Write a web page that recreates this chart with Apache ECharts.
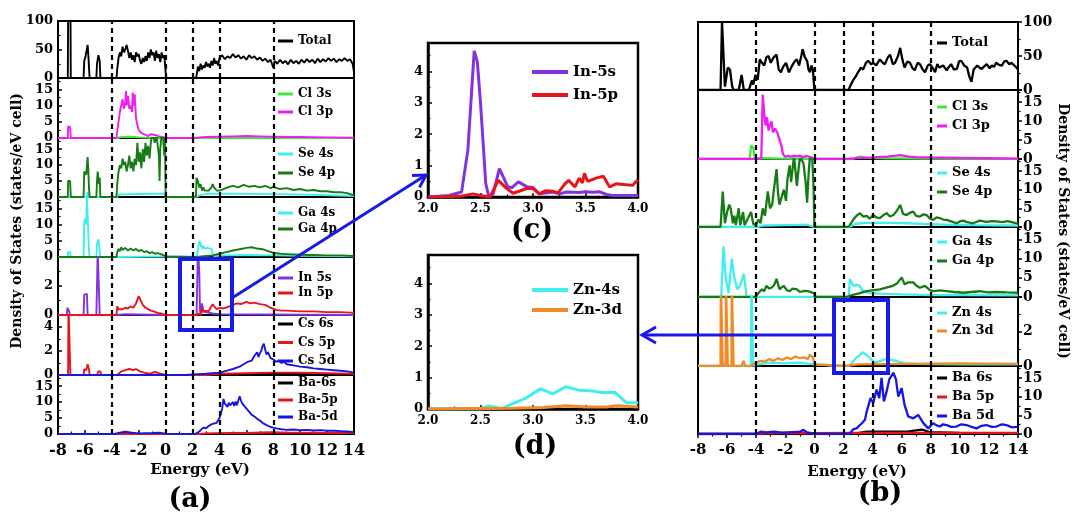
<!DOCTYPE html>
<html>
<head>
<meta charset="utf-8">
<script src="https://cdn.jsdelivr.net/npm/echarts@6/dist/echarts.min.js"></script>
<style>
  html, body { margin: 0; padding: 0; background: #fff; }
  #chart { width: 1076px; height: 517px; }
</style>
</head>
<body>
<div id="chart"></div>
<script>
// ---- data: energy (eV) vs DOS (states/eV cell) ----
const energyTicks = [-8, -6, -4, -2, 0, 2, 4, 6, 8, 10, 12, 14];
const dashE = [-4, 0, 2, 4, 8];
const totalTicks = [0, 50, 100];
const dosTicks = [0, 5, 10, 15];
const inTicks = [0, 2];
const csTicks = [0, 2, 4];
const znTicks = [0, 2];
const zoomTicks = [0, 1, 2, 3, 4];

// panel (a)
const aTotal = [[-8,0],[-7.27,0],[-7.25,100],[-7.07,100],[-7.05,0],[-6.1,0],[-6.05,30],[-5.95,38],[-5.9,35],[-5.8,58],[-5.75,42],[-5.7,20],[-5.65,0],[-5.15,0],[-5.1,25],[-5.0,40],[-4.9,30],[-4.85,0],[-3.65,0],[-3.6,15],[-3.5,35],[-3.4,45],[-3.3,38],[-3.2,55],[-3.1,45],[-3.0,50],[-2.9,58],[-2.8,48],[-2.7,35],[-2.6,45],[-2.5,32],[-2.4,40],[-2.3,28],[-2.2,45],[-2.1,38],[-2.0,42],[-1.9,30],[-1.8,25],[-1.7,35],[-1.6,28],[-1.5,38],[-1.4,30],[-1.3,45],[-1.2,35],[-1.1,50],[-1.0,40],[-0.9,45],[-0.8,30],[-0.7,48],[-0.6,35],[-0.5,42],[-0.4,28],[-0.3,45],[-0.2,35],[-0.1,40],[0,10],[0.05,0],[2.25,0],[2.3,5],[2.4,20],[2.5,12],[2.6,25],[2.7,15],[2.8,22],[2.9,18],[3.0,28],[3.1,20],[3.2,25],[3.3,18],[3.4,30],[3.5,22],[3.6,35],[3.7,25],[3.8,30],[3.9,22],[4.0,35],[4.2,40],[4.4,33],[4.6,38],[4.8,35],[5.0,42],[5.2,36],[5.4,40],[5.6,34],[5.8,38],[6.0,32],[6.2,40],[6.4,35],[6.6,38],[6.8,32],[7.0,36],[7.2,30],[7.4,34],[7.6,28],[7.8,32],[8.0,18],[8.1,30],[8.3,25],[8.5,32],[8.7,26],[8.9,30],[9.1,24],[9.3,32],[9.5,26],[9.7,30],[9.9,25],[10.1,32],[10.3,27],[10.5,33],[10.7,28],[10.9,32],[11.1,26],[11.3,34],[11.5,28],[11.7,33],[11.9,29],[12.1,35],[12.3,30],[12.5,34],[12.7,28],[12.9,33],[13.1,30],[13.3,35],[13.5,30],[13.7,33],[13.9,25],[14,10]];
const aCl3s = [[-8,0],[-3.6,0],[-3.3,0.3],[-2.5,0.4],[-2,0.2],[-1,0.1],[0,0],[14,0]];
const aCl3p = [[-8,0],[-7.27,0],[-7.25,3.5],[-7.1,3.5],[-7.05,0],[-3.65,0],[-3.6,2],[-3.5,5],[-3.4,8],[-3.3,10],[-3.2,12],[-3.1,9],[-3.0,11],[-2.95,14.5],[-2.9,10],[-2.8,13],[-2.7,9],[-2.6,10],[-2.5,8],[-2.45,14],[-2.4,10],[-2.3,13.5],[-2.2,6],[-2.1,4],[-2.0,2.5],[-1.9,3],[-1.8,1.5],[-1.7,1],[-1.5,1],[-1.3,0.6],[-1.1,1.2],[-0.9,1],[-0.7,0.8],[-0.5,0.5],[-0.3,0.4],[0,0],[2.3,0],[2.5,0.2],[3,0.3],[4,0.4],[5,0.5],[6,0.6],[7,0.5],[8,0.4],[9,0.3],[10,0.3],[12,0.2],[14,0.1]];
const aSe4s = [[-8,0],[-5.85,0],[-5.8,1.5],[-5.75,0],[-3.6,0],[-3.5,0.8],[-1,1],[-0.1,1],[0,0],[2.3,0],[2.5,0.5],[3,1],[5,1],[8,0.9],[11,0.7],[14,0.3]];
const aSe4p = [[-8,0],[-7.27,0],[-7.25,5],[-7.1,5],[-7.05,0],[-6.1,0],[-6.05,8],[-5.95,8.5],[-5.9,7],[-5.8,12.5],[-5.75,9],[-5.7,3],[-5.65,0],[-5.15,0],[-5.1,5],[-5.05,8],[-4.95,4],[-4.9,6],[-4.85,0],[-3.65,0],[-3.6,4],[-3.5,8],[-3.4,10],[-3.3,9],[-3.2,12],[-3.1,10],[-3.0,11],[-2.9,8],[-2.8,10],[-2.7,13],[-2.6,9],[-2.5,11],[-2.4,8],[-2.3,12],[-2.2,10],[-2.1,17],[-2.0,11],[-1.9,14],[-1.8,9],[-1.7,15],[-1.6,11],[-1.5,17],[-1.4,13],[-1.3,16],[-1.2,12],[-1.1,17],[-1.0,20],[-0.9,20],[-0.8,17],[-0.7,20],[-0.6,20],[-0.5,13],[-0.45,5],[-0.4,15],[-0.3,20],[-0.2,19],[-0.1,13],[-0.05,20],[0,0],[2.25,0],[2.3,6],[2.4,5],[2.5,3],[2.6,4],[2.7,2],[2.8,3],[2.9,2],[3.0,2.5],[3.2,2],[3.4,3],[3.5,4],[3.6,3],[3.8,2],[4.0,2],[4.3,2.5],[4.6,3],[5.0,3.5],[5.4,3],[5.8,3.8],[6.2,3.2],[6.6,3.5],[7.0,3],[7.4,3.5],[7.8,2.8],[8.0,3.2],[8.5,2.5],[9,2.8],[9.5,2.2],[10,2.5],[10.5,2],[11,2.2],[11.5,1.8],[12,1.8],[12.5,1.5],[13,1.5],[13.5,1.2],[14,0.5]];
const aGa4s = [[-8,0],[-7.27,0],[-7.25,1.5],[-7.1,1.5],[-7.05,0],[-6.1,0],[-6.05,11],[-5.95,12],[-5.9,10],[-5.85,19],[-5.75,19],[-5.7,2],[-5.65,0],[-5.15,0],[-5.1,4],[-5.0,5.5],[-4.9,5],[-4.85,0],[-3.6,0],[-3.5,0.3],[0,0.2],[2.3,0],[2.4,2],[2.5,5],[2.6,4],[2.7,2.5],[2.8,3.5],[2.9,2.5],[3.0,3],[3.1,2.8],[3.2,3],[3.4,2.5],[3.5,1],[3.6,0.3],[4.5,0.5],[6,0.6],[8,0.5],[10,0.4],[14,0.2]];
const aGa4p = [[-8,0],[-3.65,0],[-3.6,1.5],[-3.5,2.5],[-3.4,1.8],[-3.3,3],[-3.2,2.2],[-3.0,2.8],[-2.8,2],[-2.6,2.6],[-2.4,2],[-2.2,2.5],[-2.0,1.8],[-1.8,2.2],[-1.6,1.5],[-1.4,1.8],[-1.2,1.2],[-1.0,1.5],[-0.8,1],[-0.6,1.2],[-0.3,0.8],[0,0.2],[2.3,0],[3,0.3],[3.5,0.5],[4,1],[4.5,1.5],[5,2],[5.5,2.4],[6,2.8],[6.4,3],[6.8,2.6],[7.2,2.4],[7.6,1.8],[8,1.3],[8.5,1],[9,0.9],[10,0.7],[11,0.6],[12,0.5],[13,0.5],[14,0.3]];
const aIn5s = [[-8,0],[-7.35,0],[-7.3,0.5],[-7.2,0.3],[-7.1,0],[-6.1,0],[-6.05,1.4],[-5.85,1.45],[-5.8,0],[-5.15,0],[-5.1,2],[-5.05,4.5],[-4.95,4.5],[-4.9,0],[-3.6,0],[-3,0.05],[0,0],[2.3,0],[2.4,4.6],[2.5,3],[2.55,0.4],[2.6,0],[2.7,0.8],[2.8,0.3],[2.9,0.4],[3,0.2],[3.5,0.1],[4,0.05],[14,0]];
const aIn5p = [[-8,0],[-3.65,0],[-3.6,0.6],[-3.5,0.4],[-3.4,0.5],[-3.2,0.4],[-3.0,0.5],[-2.8,0.45],[-2.6,0.6],[-2.4,0.5],[-2.2,0.8],[-2.1,0.9],[-2.0,1.3],[-1.9,1.1],[-1.8,1.0],[-1.7,0.7],[-1.6,0.8],[-1.5,0.5],[-1.3,0.4],[-1.1,0.3],[-0.9,0.25],[-0.6,0.15],[-0.3,0.1],[0,0],[2.3,0],[2.45,0.1],[2.6,0],[2.7,0.5],[2.8,0.2],[2.9,0.3],[3.0,0.3],[3.2,0.25],[3.4,0.6],[3.5,0.75],[3.6,0.6],[3.7,0.65],[3.8,0.4],[4.0,0.5],[4.3,0.45],[4.6,0.55],[5.0,0.7],[5.3,0.8],[5.6,0.75],[6.0,0.9],[6.3,0.8],[6.6,0.85],[7.0,0.75],[7.4,0.7],[7.8,0.5],[8.2,0.35],[8.6,0.3],[9,0.3],[10,0.25],[11,0.25],[12,0.2],[13,0.2],[14,0.15]];
const aCs6s = [[-8,0],[2,0],[4,0.05],[8,0.1],[12,0.05],[14,0.03]];
const aCs5p = [[-8,0],[-7.25,0],[-7.22,6],[-7.1,6],[-7.08,0],[-6.1,0],[-6.05,0.5],[-5.9,0.4],[-5.8,0.9],[-5.7,0.5],[-5.65,0],[-5.1,0],[-5.0,0.3],[-4.85,0.3],[-4.8,0],[-3.6,0],[-3.3,0.3],[-3.0,0.4],[-2.7,0.5],[-2.4,0.4],[-2.2,0.5],[-1.9,0.3],[-1.6,0.2],[-1.2,0.1],[-0.8,0.25],[-0.5,0.15],[0,0],[3,0],[4,0.1],[6,0.15],[8,0.2],[10,0.2],[12,0.15],[14,0.1]];
const aCs5d = [[-8,0],[1.5,0],[2,0.05],[3,0.1],[4,0.2],[4.5,0.35],[5,0.5],[5.5,0.7],[5.8,0.9],[6.1,1.1],[6.4,1.2],[6.6,1.6],[6.8,1.9],[6.9,1.5],[7.0,1.8],[7.1,2.0],[7.2,2.4],[7.3,2.6],[7.4,2.1],[7.5,1.7],[7.6,1.9],[7.8,1.4],[8.0,1.3],[8.2,1.1],[8.4,1.2],[8.6,1.0],[8.8,1.1],[9.0,0.9],[9.5,0.8],[10,0.7],[10.5,0.65],[11,0.55],[11.5,0.5],[12,0.45],[12.5,0.4],[13,0.35],[13.5,0.3],[14,0.2]];
const aBa6s = [[-8,0],[3,0],[5,0.2],[7,0.4],[8,0.5],[10,0.2],[14,0.1]];
const aBa5p = [[-8,0],[2.5,0],[3,0.2],[5,0.3],[8,0.4],[10,0.4],[14,0.3]];
const aBa5d = [[-8,0],[-3.8,0],[-3.5,0.3],[-3,0.7],[-2.5,0.4],[-2,0.2],[-1,0.3],[-0.5,0.4],[0,0.1],[2.2,0],[2.4,0.5],[2.6,1.2],[2.8,2],[3.0,1.8],[3.2,2.5],[3.4,3],[3.6,3.3],[3.8,3.5],[4.0,5],[4.1,6.3],[4.2,8],[4.3,11],[4.4,9.5],[4.5,10],[4.6,8.5],[4.7,9.8],[4.8,9],[5.0,10],[5.1,8.8],[5.2,10.2],[5.3,9],[5.4,10.5],[5.5,11.8],[5.6,10.5],[5.7,9.5],[5.8,10],[5.9,8.5],[6.0,7.9],[6.2,7],[6.4,6],[6.6,5.5],[6.8,4.8],[7.0,4.2],[7.2,3.5],[7.5,2.8],[7.8,2.2],[8.0,2],[8.3,1.7],[8.6,1.5],[9,1.3],[9.5,1.4],[10,1.2],[10.5,1.3],[11,1.1],[11.5,1.2],[12,1.0],[12.5,1.0],[13,0.9],[13.5,0.8],[14,0.6]];

// panel (b)
const bTotal = [[-8,0],[-6.45,0],[-6.35,100],[-6.25,100],[-6.15,5],[-5.95,33],[-5.8,30],[-5.65,5],[-5.55,0],[-5.2,0],[-5.0,22],[-4.85,0],[-4.5,0],[-4.3,14],[-4.2,8],[-4.05,22],[-3.9,15],[-3.75,45],[-3.6,40],[-3.45,36],[-3.3,48],[-3.15,50],[-3.0,40],[-2.8,48],[-2.6,52],[-2.45,30],[-2.3,26],[-2.15,34],[-1.95,40],[-1.75,26],[-1.55,35],[-1.35,42],[-1.2,45],[-1.05,36],[-0.9,50],[-0.8,60],[-0.65,48],[-0.5,43],[-0.4,30],[-0.3,26],[-0.2,36],[-0.1,30],[0,0],[2.35,0],[2.45,5],[2.65,14],[2.85,20],[3.0,26],[3.2,33],[3.35,30],[3.55,40],[3.7,43],[3.9,38],[4.05,40],[4.25,36],[4.5,45],[4.7,40],[4.85,38],[5.05,48],[5.2,52],[5.4,38],[5.55,40],[5.75,50],[5.9,62],[6.05,45],[6.2,33],[6.4,42],[6.57,40],[6.75,32],[6.9,29],[7.1,40],[7.26,38],[7.45,30],[7.6,26],[7.8,36],[7.95,38],[8.15,32],[8.3,26],[8.45,38],[8.6,33],[8.85,36],[9.1,29],[9.25,34],[9.4,38],[9.6,30],[9.8,31],[9.95,42],[10.1,43],[10.3,36],[10.5,33],[10.65,20],[10.8,12],[10.95,30],[11.2,36],[11.35,33],[11.5,31],[11.7,35],[11.85,38],[12.05,32],[12.2,36],[12.35,34],[12.5,40],[12.7,37],[12.9,36],[13.05,42],[13.2,43],[13.4,38],[13.55,40],[13.75,36],[13.9,33],[14,30]];
const bCl3s = [[-8,0],[-4.45,0],[-4.35,3.5],[-4.2,3],[-4.1,0.5],[-3.9,0.2],[-2,0.1],[0,0],[2.6,0],[2.9,0.4],[3.2,0.6],[3.5,0.3],[5,0.2],[8,0.1],[14,0.05]];
const bCl3p = [[-8,0],[-3.65,0],[-3.55,17],[-3.45,12],[-3.35,8.8],[-3.25,11],[-3.15,7.5],[-3.05,9],[-2.95,10],[-2.85,7],[-2.7,8],[-2.55,7],[-2.4,5.2],[-2.3,4],[-2.15,1.2],[-2,0.6],[-1.8,0.8],[-1.6,0.6],[-1.4,0.9],[-1.2,0.7],[-1,0.9],[-0.8,0.5],[-0.5,0.8],[-0.2,0.4],[0,0],[2.4,0],[3,0.3],[4,0.4],[5,0.6],[5.9,1],[6.5,0.6],[7,0.5],[8,0.4],[10,0.3],[12,0.2],[14,0.1]];
const bSe4s = [[-8,0],[-6.4,0],[-6.3,0.5],[-6.2,0],[-4,0],[-3.5,0.4],[-2,0.5],[-0.5,0.6],[0,0],[2.4,0],[2.8,0.8],[3.5,1.1],[5,1.1],[6.5,1],[7.5,0.8],[9,0.6],[11,0.5],[14,0.4]];
const bSe4p = [[-8,0],[-6.45,0],[-6.3,9.5],[-6.15,1],[-6.0,4],[-5.85,6],[-5.75,5],[-5.6,1],[-5.5,3],[-5.4,0.5],[-5.2,5],[-5.1,0.5],[-4.9,4],[-4.8,0.5],[-4.55,2.5],[-4.35,4],[-4.2,0.8],[-4.0,0.5],[-3.85,2],[-3.7,1],[-3.55,5],[-3.4,3],[-3.2,9.5],[-3.05,5],[-2.9,6],[-2.75,11],[-2.6,15.5],[-2.5,9],[-2.4,6],[-2.25,8],[-2.1,10],[-1.95,7],[-1.85,12.8],[-1.7,16.5],[-1.6,12],[-1.4,19],[-1.3,19],[-1.2,11],[-1.1,15],[-0.98,19],[-0.9,19],[-0.75,17],[-0.6,12],[-0.5,6.5],[-0.4,14],[-0.3,19],[-0.15,19],[-0.05,10],[0,0],[2.35,0],[2.45,0.5],[2.68,2],[2.9,3],[3.14,3.7],[3.35,2.8],[3.6,3],[3.8,2.2],[4.05,3.2],[4.25,2.6],[4.5,2.4],[4.75,3.2],[4.97,3.7],[5.2,2.8],[5.43,3.2],[5.65,4.2],[5.9,5.9],[6.1,3.5],[6.34,3.2],[6.55,3.8],[6.8,4.1],[7.0,3.0],[7.26,2.8],[7.5,3.4],[7.72,3.2],[7.95,2.2],[8.17,1.9],[8.4,2.6],[8.63,2.4],[8.85,2.0],[9.09,1.9],[9.4,1.5],[9.77,1.0],[10.0,1.5],[10.23,1.7],[10.5,1.3],[10.9,1.0],[11.38,1.7],[11.8,1.4],[12.2,1.6],[12.52,1.5],[12.9,1.3],[13.3,1.6],[13.7,1.2],[14,0.9]];
const bGa4s = [[-8,0],[-6.4,0],[-6.25,13.2],[-6.1,5],[-5.9,1],[-5.75,7],[-5.68,10],[-5.5,5],[-5.3,2],[-5.1,3],[-4.85,6],[-4.75,3],[-4.65,0],[2.35,0],[2.45,4.7],[2.6,3.5],[2.7,2.9],[2.9,3.2],[3.1,2.9],[3.36,1.5],[3.8,1.0],[4.5,0.9],[6,0.7],[8,0.5],[10,0.5],[14,0.4]];
const bGa4p = [[-8,0],[-4.05,0],[-4.0,0.4],[-3.8,1.2],[-3.6,2],[-3.45,1.5],[-3.3,2.9],[-3.1,2.2],[-2.95,2.4],[-2.75,3.2],[-2.6,4.7],[-2.4,2],[-2.25,2.5],[-2.1,2.9],[-1.9,1.8],[-1.7,1.5],[-1.5,2.2],[-1.2,2],[-1,1.3],[-0.7,1.6],[-0.4,1.5],[-0.2,1.2],[0,0.9],[0.05,0],[2.2,0],[2.5,0.4],[3.0,0.9],[3.6,1.5],[4.1,1.8],[4.5,2],[5.0,2.5],[5.4,2.9],[5.7,3.6],[6.0,5.1],[6.2,3.3],[6.45,3.8],[6.8,3.8],[7.0,3.0],[7.26,2.4],[7.6,2.9],[7.95,1.8],[8.2,1.5],[8.6,1.7],[9.1,1.5],[9.6,1.3],[10.23,1.1],[10.8,1.3],[11.38,1.5],[11.9,1.2],[12.52,1.3],[13.2,1.2],[14,1.1]];
const bZn4s = [[-8,0],[-6.4,0],[-6.3,0.2],[-6.2,0],[-4.35,0],[-4.33,5],[-4.23,5],[-4.21,0],[-3.9,0.1],[-3,0.2],[-2,0.15],[-1,0.2],[0,0.1],[2.4,0],[2.6,0.2],[2.9,0.5],[3.1,0.6],[3.3,0.8],[3.5,0.7],[3.7,0.55],[3.9,0.4],[4.1,0.2],[4.4,0.25],[4.9,0.4],[5.3,0.35],[5.6,0.3],[6.2,0.15],[7,0.12],[10,0.1],[14,0.1]];
const bZn3d = [[-8,0],[-6.45,0],[-6.43,5],[-6.32,5],[-6.3,0],[-6.1,0],[-6.08,5],[-5.97,5],[-5.95,0],[-5.7,0],[-5.68,5],[-5.57,5],[-5.55,0],[-5.0,0],[-4.88,0.3],[-4.75,0],[-4.4,0],[-4.0,0.2],[-3.7,0.3],[-3.4,0.25],[-3.1,0.4],[-2.8,0.3],[-2.5,0.45],[-2.2,0.35],[-1.9,0.5],[-1.6,0.4],[-1.3,0.55],[-1.0,0.45],[-0.7,0.5],[-0.45,0.4],[-0.3,0.65],[-0.1,0.5],[0,0.1],[0.1,0],[2,0],[3,0.1],[6,0.12],[10,0.15],[14,0.12]];
const bBa6s = [[-8,0],[2.5,0],[3,0.2],[3.6,0.6],[5,0.6],[6.5,0.7],[7.4,1.2],[7.9,0.5],[10,0.3],[14,0.2]];
const bBa5p = [[-8,0],[-4,0.1],[-2,0.3],[0,0.2],[3,0.3],[8,0.3],[14,0.3]];
const bBa5d = [[-8,0],[-4,0],[-3.7,0.6],[-3.3,0.4],[-2.8,0.6],[-2.2,0.35],[-1.5,0.5],[-1,0.6],[-0.75,1.1],[-0.5,0.4],[0,0.1],[2.4,0],[2.68,1.3],[2.9,1.5],[3.14,2.4],[3.3,3],[3.48,3.8],[3.6,6],[3.7,7.4],[3.86,9.6],[4.05,8.3],[4.28,11.9],[4.46,9.6],[4.62,15],[4.78,8.7],[4.97,11.4],[5.15,14.6],[5.43,16.4],[5.61,14.6],[5.77,10],[6.0,12.3],[6.2,7.8],[6.45,4.7],[6.8,4.2],[7.14,5.1],[7.49,2.9],[7.83,1.5],[8.17,2.9],[8.4,2.3],[8.63,2.0],[8.85,2.6],[9.09,2.4],[9.4,1.9],[9.77,2.0],[10.1,2.6],[10.46,2.4],[10.8,1.9],[11.15,1.5],[11.5,2.2],[11.83,2.4],[12.2,1.9],[12.52,2.0],[12.9,2.6],[13.2,2.4],[13.5,1.9],[13.66,1.8],[14,2.0]];

// panels (c) and (d): zoom on 2-4 eV
const cIn5s = [[2.0,0],[2.2,0.05],[2.32,0.16],[2.38,1.5],[2.44,4.65],[2.47,4.3],[2.5,3.0],[2.55,0.43],[2.58,0],[2.62,0.1],[2.68,0.9],[2.76,0.32],[2.8,0.3],[2.86,0.48],[2.94,0.33],[3.0,0.3],[3.06,0.1],[3.19,0.16],[3.25,0.1],[3.32,0.16],[3.44,0.14],[3.5,0.17],[3.57,0.15],[3.63,0.17],[3.7,0.08],[3.76,0.05],[4.0,0.05]];
const cIn5p = [[2.0,0],[2.3,0.02],[2.43,0.1],[2.5,0.05],[2.59,0],[2.67,0.53],[2.74,0.3],[2.81,0.12],[2.88,0.2],[2.94,0.27],[3.0,0.27],[3.06,0.1],[3.12,0.2],[3.19,0.18],[3.24,0.14],[3.3,0.4],[3.34,0.53],[3.4,0.32],[3.44,0.6],[3.47,0.45],[3.49,0.75],[3.52,0.5],[3.6,0.6],[3.67,0.66],[3.73,0.32],[3.79,0.42],[3.86,0.4],[3.95,0.37],[3.97,0.45],[4.0,0.55]];
const dZn4s = [[2.0,0],[2.49,0],[2.58,0.1],[2.71,0.02],[2.8,0.16],[2.93,0.34],[3.07,0.64],[3.19,0.48],[3.31,0.71],[3.44,0.6],[3.57,0.57],[3.66,0.52],[3.78,0.53],[3.89,0.2],[4.0,0.2]];
const dZn3d = [[2.0,0],[2.8,0.02],[3.1,0.05],[3.31,0.1],[3.5,0.06],[3.7,0.06],[3.8,0.1],[4.0,0.06]];

// ---- styling / layout ----
const FONT = '"DejaVu Serif", serif';
const C = {
  black: '#000000', green: '#3ee83e', magenta: '#ee1eee', cyan: '#40eeee',
  dgreen: '#157c15', violet: '#8232e0', red: '#e8141c', blue: '#1616e0',
  orange: '#f08a28', arrow: '#1a1ae8'
};

const frameA = { left: 58, width: 296, xmin: -8, xmax: 14, xstep: 2, xticks: energyTicks, border: 2, tickIn: true, ypos: 'left',
  lw: 1.9, xfs: 16, yfs: 13, xmargin: 9, dash: true,
  lg: { left: 278, itemWidth: 15, itemHeight: 3, fontSize: 12, lineHeight: 14 } };
const frameB = { left: 698, width: 320, xmin: -8, xmax: 14, xstep: 2, xticks: energyTicks, border: 2, tickIn: false, ypos: 'right',
  lw: 2.3, xfs: 15, yfs: 14, xmargin: 9, dash: true,
  lg: { left: 937, itemWidth: 10, itemHeight: 3, fontSize: 13, lineHeight: 15 } };
const frameZ = { left: 428, width: 210, xmin: 2, xmax: 4, xstep: 0.5, xticks: [2, 2.5, 3, 3.5, 4], border: 2.5, tickIn: true, ypos: 'left',
  lw: 3, xfs: 12, yfs: 13, xmargin: 6, dash: false, xfmt: v => v.toFixed(1),
  lg: { left: 532, itemWidth: 36, itemHeight: 4, fontSize: 15, lineHeight: 18 } };

const panelsA = [
  { top: 21,  h: 57, max: 100,  step: 50, labels: totalTicks, lg: [34, 4],  lines: [['Total', aTotal, C.black]] },
  { top: 78,  h: 60, max: 18.5, step: 5,  labels: dosTicks,   lg: [87, 4],  lines: [['Cl 3s', aCl3s, C.green], ['Cl 3p', aCl3p, C.magenta]] },
  { top: 138, h: 59, max: 18.5, step: 5,  labels: dosTicks,   lg: [147, 5], lines: [['Se 4s', aSe4s, C.cyan], ['Se 4p', aSe4p, C.dgreen]] },
  { top: 197, h: 60, max: 18.5, step: 5,  labels: dosTicks,   lg: [206, 2], lines: [['Ga 4s', aGa4s, C.cyan], ['Ga 4p', aGa4p, C.dgreen]] },
  { top: 257, h: 58, max: 4,    step: 2,  labels: inTicks,    lg: [271, 1], lines: [['In 5s', aIn5s, C.violet], ['In 5p', aIn5p, C.red]] },
  { top: 315, h: 60, max: 5,    step: 2,  labels: csTicks,    lg: [317, 4.5], lines: [['Cs 6s', aCs6s, C.black], ['Cs 5p', aCs5p, C.red], ['Cs 5d', aCs5d, C.blue]] },
  { top: 375, h: 59, max: 18.5, step: 5,  labels: dosTicks,   lg: [376, 3], lines: [['Ba-6s', aBa6s, C.black], ['Ba-5p', aBa5p, C.red], ['Ba-5d', aBa5d, C.blue]] }
];
const panelsB = [
  { top: 22,  h: 68, max: 100,  step: 50, labels: totalTicks, lg: [35.5, 4],  lines: [['Total', bTotal, C.black]] },
  { top: 90,  h: 69, max: 18.2, step: 5,  labels: dosTicks,   lg: [99.5, 4],  lines: [['Cl 3s', bCl3s, C.green], ['Cl 3p', bCl3p, C.magenta]] },
  { top: 159, h: 68, max: 18.2, step: 5,  labels: dosTicks,   lg: [165.5, 4], lines: [['Se 4s', bSe4s, C.cyan], ['Se 4p', bSe4p, C.dgreen]] },
  { top: 227, h: 70, max: 18.2, step: 5,  labels: dosTicks,   lg: [234.5, 4], lines: [['Ga 4s', bGa4s, C.cyan], ['Ga 4p', bGa4p, C.dgreen]] },
  { top: 297, h: 69, max: 4,    step: 2,  labels: znTicks,    lg: [305.5, 3], lines: [['Zn 4s', bZn4s, C.cyan], ['Zn 3d', bZn3d, C.orange]] },
  { top: 366, h: 68, max: 18.2, step: 5,  labels: dosTicks,   lg: [370.5, 4], lines: [['Ba 6s', bBa6s, C.black], ['Ba 5p', bBa5p, C.red], ['Ba 5d', bBa5d, C.blue]] }
];
const panelsZ = [
  { top: 43,  h: 154, max: 4.9, step: 1, labels: zoomTicks, lg: [63, 5],  lines: [['In-5s', cIn5s, C.violet], ['In-5p', cIn5p, C.red]] },
  { top: 255, h: 154, max: 4.9, step: 1, labels: zoomTicks, lg: [281, 2], lines: [['Zn-4s', dZn4s, C.cyan], ['Zn-3d', dZn3d, C.orange]] }
];

const grids = [], xAxes = [], yAxes = [], series = [], legends = [];

function addPanel(p, f, showX) {
  const i = grids.length;
  const lbl = { fontFamily: FONT, fontWeight: 'bold', color: '#000' };
  grids.push({ left: f.left, top: p.top, width: f.width, height: p.h, show: true,
    borderColor: '#000', borderWidth: f.border, backgroundColor: 'rgba(0,0,0,0)' });
  xAxes.push({
    gridIndex: i, type: 'value', min: f.xmin, max: f.xmax, interval: f.xstep, position: 'bottom',
    axisLine: { show: showX, onZero: false, lineStyle: { color: '#000', width: f.border } },
    axisTick: { show: showX, inside: f.tickIn, length: 4, lineStyle: { color: '#000', width: 1.5 } },
    minorTick: { show: showX, splitNumber: 2, length: 2.5, lineStyle: { color: '#000', width: 1.2 } },
    axisLabel: Object.assign({ show: showX, fontSize: f.xfs, margin: f.xmargin,
      formatter: v => f.xticks.includes(v) ? (f.xfmt ? f.xfmt(v) : String(v)) : '' }, lbl),
    splitLine: { show: false }
  });
  yAxes.push({
    gridIndex: i, type: 'value', min: 0, max: p.max, interval: p.step, position: f.ypos,
    axisLine: { show: true, onZero: false, lineStyle: { color: '#000', width: f.border } },
    axisTick: { show: true, inside: f.tickIn, length: 4, lineStyle: { color: '#000', width: 1.5 } },
    minorTick: { show: true, splitNumber: 2, length: 2.5, lineStyle: { color: '#000', width: 1.2 } },
    axisLabel: Object.assign({ fontSize: f.yfs, margin: 5,
      formatter: v => p.labels.includes(v) ? String(v) : '' }, lbl),
    splitLine: { show: false }
  });
  p.lines.forEach((s, k) => {
    const ser = {
      type: 'line', name: s[0], data: s[1], xAxisIndex: i, yAxisIndex: i,
      symbol: 'none', clip: true, lineStyle: { color: s[2], width: f.lw },
      itemStyle: { color: s[2] }, emphasis: { disabled: true }
    };
    if (k === 0 && f.dash) {
      ser.markLine = {
        silent: true, symbol: ['none', 'none'], label: { show: false },
        lineStyle: { color: '#000', type: [5, 4], width: 2.2 },
        emphasis: { disabled: true },
        data: dashE.map(v => ({ xAxis: v }))
      };
    }
    series.push(ser);
  });
  legends.push({
    orient: 'vertical', left: f.lg.left, top: p.lg[0], itemGap: p.lg[1], padding: 0,
    itemWidth: f.lg.itemWidth, itemHeight: f.lg.itemHeight, icon: 'rect', selectedMode: false,
    data: p.lines.map(s => s[0]),
    textStyle: { fontFamily: FONT, fontWeight: 'bold', fontSize: f.lg.fontSize, lineHeight: f.lg.lineHeight, color: '#000' }
  });
}

panelsA.forEach((p, k) => addPanel(p, frameA, k === panelsA.length - 1));
panelsB.forEach((p, k) => addPanel(p, frameB, k === panelsB.length - 1));
panelsZ.forEach(p => addPanel(p, frameZ, true));

function label(text, x, y, size, rot) {
  return { type: 'text', x: x, y: y, rotation: rot || 0, z: 100,
    style: { text: text, font: 'bold ' + size + 'px ' + FONT, fill: '#000', align: 'center', verticalAlign: 'middle' } };
}
const blue = { stroke: C.arrow, fill: 'none' };

const graphic = [
  label('Density of States (states/eV cell)', 17, 221, 14, Math.PI / 2),
  label('Density of States (states/eV cell)', 1063, 231, 14, -Math.PI / 2),
  label('Energy (eV)', 200, 470, 15),
  label('Energy (eV)', 857, 472, 15),
  label('(a)', 190, 500, 27),
  label('(b)', 880, 494, 27),
  label('(c)', 532, 231, 27),
  label('(d)', 535, 447, 27),
  { type: 'rect', z: 100, shape: { x: 180, y: 259, width: 52, height: 71 }, style: Object.assign({ lineWidth: 4 }, blue) },
  { type: 'rect', z: 100, shape: { x: 834, y: 300, width: 54, height: 73 }, style: Object.assign({ lineWidth: 4 }, blue) },
  { type: 'line', z: 100, shape: { x1: 232, y1: 298, x2: 426, y2: 175 }, style: Object.assign({ lineWidth: 3 }, blue) },
  { type: 'polyline', z: 100, shape: { points: [[412, 175.6], [426, 175], [419.5, 187.4]] }, style: Object.assign({ lineWidth: 3 }, blue) },
  { type: 'line', z: 100, shape: { x1: 834, y1: 335, x2: 642, y2: 335 }, style: Object.assign({ lineWidth: 3 }, blue) },
  { type: 'polyline', z: 100, shape: { points: [[656, 327], [642, 335], [656, 343]] }, style: Object.assign({ lineWidth: 3 }, blue) }
];

const chart = echarts.init(document.getElementById('chart'), null, { renderer: 'canvas' });
chart.setOption({
  animation: false,
  backgroundColor: '#fff',
  grid: grids,
  xAxis: xAxes,
  yAxis: yAxes,
  legend: legends,
  series: series,
  graphic: graphic
});
</script>
</body>
</html>
